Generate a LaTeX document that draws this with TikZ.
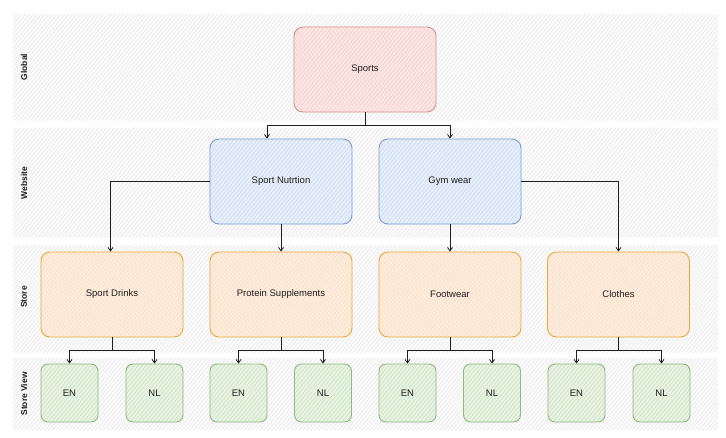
\documentclass[tikz,border=0pt]{standalone}
\usepackage{fontspec}
\setmainfont{Liberation Sans}
\usetikzlibrary{arrows.meta,patterns.meta}

% palette
\definecolor{ink}{HTML}{1E1E1E}
\definecolor{redS}{HTML}{D4928C}\definecolor{redF}{HTML}{FCE7E5}\definecolor{redH}{HTML}{F3C3BE}
\definecolor{bluS}{HTML}{7C9CCF}\definecolor{bluF}{HTML}{E6EEF9}\definecolor{bluH}{HTML}{C7D8F0}
\definecolor{orgS}{HTML}{E8A93A}\definecolor{orgF}{HTML}{FDEEDF}\definecolor{orgH}{HTML}{F8D4B2}
\definecolor{grnS}{HTML}{8DBB7E}\definecolor{grnF}{HTML}{E8F2E3}\definecolor{grnH}{HTML}{C6DFBB}

\tikzset{
  hatch/.style={pattern={Lines[angle=50,distance=3pt,line width=0.4pt]},pattern color=#1},
  lane/.style={draw=none,preaction={fill=gray!4},preaction={hatch=gray!20}},
  lanelabel/.style={rotate=90,font=\bfseries\fontsize{8.5}{10}\selectfont,text=ink,inner sep=0pt},
  box/.style n args={3}{shape=rectangle,rounded corners=9pt,draw=#1,line width=0.9pt,
    preaction={fill=#2},preaction={hatch=#3},inner sep=0pt,text=ink,
    font=\fontsize{9.5}{11}\selectfont},
  bigbox/.style={minimum width=142pt,minimum height=85pt},
  smallbox/.style={minimum width=57pt,minimum height=58pt,rounded corners=7pt},
  redbox/.style={box={redS}{redF}{redH},bigbox},
  bluebox/.style={box={bluS}{bluF}{bluH},bigbox},
  orangebox/.style={box={orgS}{orgF}{orgH},bigbox},
  greenbox/.style={box={grnS}{grnF}{grnH},smallbox},
  link/.style={draw=ink,line width=0.8pt},
  arr/.style={link,-{Straight Barb[length=3.5pt,width=5pt]}},
}

\begin{document}
\begin{tikzpicture}[x=1pt,y=-1pt]
\useasboundingbox (0,0) rectangle (726,437);

% swim lanes
\path[lane] (13,14) rectangle (718,120);
\path[lane] (13,128) rectangle (718,237);
\path[lane] (13,245) rectangle (718,352);
\path[lane] (13,358) rectangle (718,430);
\node[lanelabel] (lglobal) at (24,67) {Global};
\node[lanelabel] (lweb) at (24,183) {Website};
\node[lanelabel] (lstore) at (24,297) {Store};
\node[lanelabel] (lview) at (24,394) {Store View};

% hierarchy boxes
\node[redbox] (sports) at (365,69.5) {Sports};
\node[bluebox] (nutr) at (281,181.5) {Sport Nutrtion};
\node[bluebox] (gym) at (450,181.5) {Gym wear};
\node[orangebox] (drinks) at (112,294.5) {Sport Drinks};
\node[orangebox] (protein) at (281,294.5) {Protein Supplements};
\node[orangebox] (foot) at (450,294.5) {Footwear};
\node[orangebox] (clothes) at (618.5,294.5) {Clothes};

\node[greenbox] (en1) at (69.5,393) {EN};
\node[greenbox] (nl1) at (154.5,393) {NL};
\node[greenbox] (en2) at (238.5,393) {EN};
\node[greenbox] (nl2) at (323,393) {NL};
\node[greenbox] (en3) at (407.5,393) {EN};
\node[greenbox] (nl3) at (492,393) {NL};
\node[greenbox] (en4) at (576.5,393) {EN};
\node[greenbox] (nl4) at (661.5,393) {NL};

% global -> website
\coordinate (jtop) at (365,125.5);
\draw[link] (sports.south) -- (jtop);
\draw[arr] (jtop) -| ([xshift=-14pt]nutr.north);
\draw[arr] (jtop) -| (gym.north);

% website -> store
\draw[arr] (nutr.west) -| ([xshift=-1.5pt]drinks.north);
\draw[arr] (nutr.south) -- (protein.north);
\draw[arr] (gym.south) -- (foot.north);
\draw[arr] (gym.east) -| (clothes.north);

% store -> store view
\foreach \s/\e/\n in {drinks/en1/nl1,protein/en2/nl2,foot/en3/nl3,clothes/en4/nl4}{
  \coordinate (j\s) at ([yshift=-13pt]\s.south);
  \draw[link] (\s.south) -- (j\s);
  \draw[arr] (j\s) -| (\e.north);
  \draw[arr] (j\s) -| (\n.north);
}
\end{tikzpicture}
\end{document}
